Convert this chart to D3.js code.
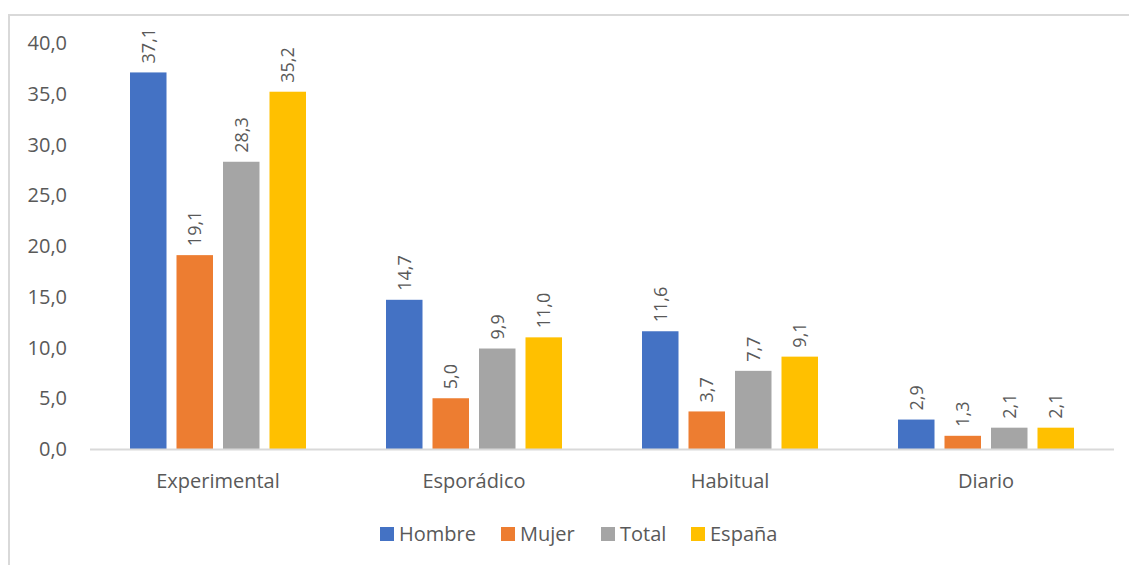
<!DOCTYPE html>
<html>
<head>
<meta charset="utf-8">
<script src="https://cdn.jsdelivr.net/npm/d3@7"></script>
<style>
  body { margin: 0; background: #fff; }
  text { font-family: "Open Sans", "Liberation Sans", sans-serif; fill: #595959; }
</style>
</head>
<body>
<div id="chart"></div>
<script>
// data
const categories = ["Experimental", "Esporádico", "Habitual", "Diario"]
const seriesNames = ["Hombre", "Mujer", "Total", "España"]
const hombre = [37.1, 14.7, 11.6, 2.9]
const mujer = [19.1, 5.0, 3.7, 1.3]
const total = [28.3, 9.9, 7.7, 2.1]
const espana = [35.2, 11.0, 9.1, 2.1]
const yTicks = [0, 5, 10, 15, 20, 25, 30, 35, 40]
const colors = ["#4472C4", "#ED7D31", "#A5A5A5", "#FFC000"]

const W = 1129, H = 565
const margin = {top: 43, right: 15, bottom: 116, left: 90}
const width = W - margin.left - margin.right,
  height = H - margin.top - margin.bottom

const svg = d3.select("#chart")
  .append("svg")
    .attr("width", W)
    .attr("height", H)

// chart frame
svg.append("rect")
  .attr("x", 9).attr("y", 15)
  .attr("width", W + 10).attr("height", H + 10)
  .attr("fill", "none")
  .attr("stroke", "#d9d9d9")
  .attr("stroke-width", 2)

const g = svg.append("g")
  .attr("transform", `translate(${margin.left},${margin.top})`)

const rows = categories.map((c, i) => ({
  cat: c,
  vals: [hombre[i], mujer[i], total[i], espana[i]]
}))

const x0 = d3.scaleBand()
  .domain(categories)
  .range([0, width])

const x1 = d3.scaleBand()
  .domain(seriesNames)
  .range([40, x0.bandwidth() - 40])
  .paddingInner(0.215)

const y = d3.scaleLinear()
  .domain([0, 40])
  .range([height, 0])

// y axis labels
g.append("g")
  .selectAll("text")
  .data(yTicks)
  .join("text")
    .attr("x", -23)
    .attr("y", d => y(d))
    .attr("dy", "0.35em")
    .attr("text-anchor", "end")
    .style("font-size", "20px")
    .text(d => d.toFixed(1).replace(".", ","))

// bars
const groups = g.selectAll(".grp")
  .data(rows)
  .join("g")
    .attr("class", "grp")
    .attr("transform", d => `translate(${x0(d.cat)},0)`)

groups.selectAll("rect")
  .data(d => d.vals.map((v, i) => ({key: seriesNames[i], v: v, i: i})))
  .join("rect")
    .attr("x", d => x1(d.key))
    .attr("y", d => y(d.v))
    .attr("width", x1.bandwidth())
    .attr("height", d => height - y(d.v))
    .attr("fill", d => colors[d.i])

// value labels, rotated
groups.selectAll(".lbl")
  .data(d => d.vals.map((v, i) => ({key: seriesNames[i], v: v})))
  .join("text")
    .attr("class", "lbl")
    .attr("transform", d => `translate(${x1(d.key) + x1.bandwidth() / 2},${y(d.v) - 9}) rotate(-90)`)
    .attr("dy", "0.35em")
    .attr("text-anchor", "start")
    .style("font-size", "18px")
    .text(d => d.v.toFixed(1).replace(".", ","))

// x axis line
g.append("line")
  .attr("x1", 0).attr("x2", width)
  .attr("y1", height + 0.5).attr("y2", height + 0.5)
  .attr("stroke", "#d9d9d9")
  .attr("stroke-width", 2)

// category labels
g.append("g")
  .selectAll("text")
  .data(categories)
  .join("text")
    .attr("x", d => x0(d) + x0.bandwidth() / 2)
    .attr("y", height + 39)
    .attr("text-anchor", "middle")
    .style("font-size", "20px")
    .text(d => d)

// legend
const legendX = [380, 501, 601, 691]
const legend = svg.append("g")
  .selectAll("g")
  .data(seriesNames)
  .join("g")
    .attr("transform", (d, i) => `translate(${legendX[i]},527)`)
legend.append("rect")
  .attr("width", 14).attr("height", 14)
  .attr("fill", (d, i) => colors[i])
legend.append("text")
  .attr("x", 19)
  .attr("y", 7)
  .attr("dy", "0.35em")
  .style("font-size", "20px")
  .text(d => d)
</script>
</body>
</html>
